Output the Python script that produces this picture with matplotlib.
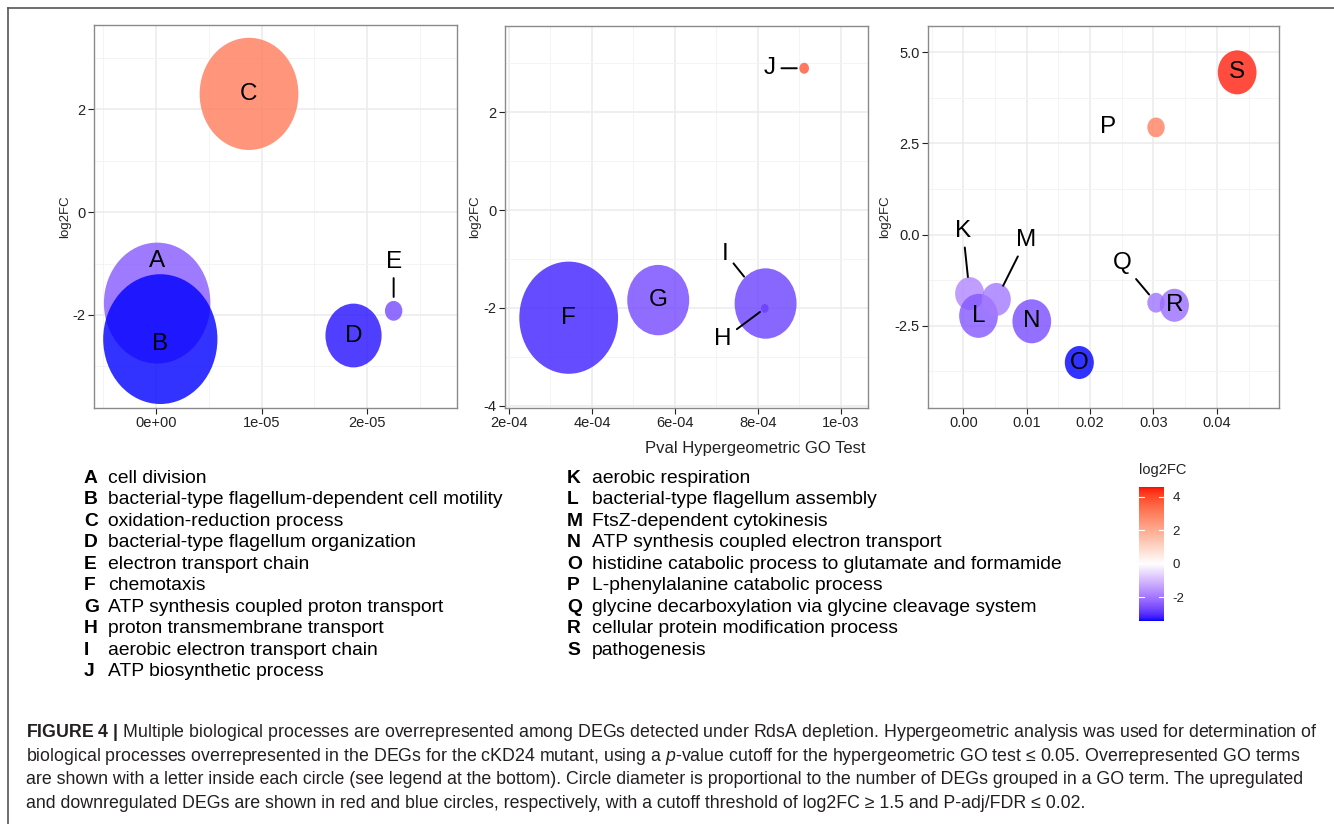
import numpy as np
import matplotlib
matplotlib.use("Agg")
import matplotlib.pyplot as plt
from matplotlib.colors import ListedColormap, TwoSlopeNorm
from matplotlib.path import Path
from matplotlib.transforms import Affine2D
from matplotlib.markers import MarkerStyle
from matplotlib.ticker import MultipleLocator, FuncFormatter
from matplotlib.lines import Line2D

plt.rcParams['font.family'] = ['Liberation Sans', 'DejaVu Sans']
plt.rcParams['axes.unicode_minus'] = False
plt.rcParams['mathtext.fontset'] = 'custom'
plt.rcParams['mathtext.rm'] = 'Liberation Sans'
plt.rcParams['mathtext.bf'] = 'Liberation Sans:bold'
plt.rcParams['mathtext.it'] = 'Liberation Sans:italic'

# ---------------- data ----------------
# panel 1
p1_terms = ["A", "B", "C", "D", "E"]
p1_pval = [0.01e-5, 0.04e-5, 0.88e-5, 1.87e-5, 2.25e-5]
p1_log2fc = [-1.77, -2.47, 2.30, -2.40, -1.92]
p1_size = [55, 59, 51, 29, 9]

# panel 2
p2_terms = ["F", "G", "H", "I", "J"]
p2_pval = [3.44e-4, 5.60e-4, 8.17e-4, 8.19e-4, 9.12e-4]
p2_log2fc = [-2.20, -1.84, -2.01, -1.91, 2.90]
p2_size = [51, 32, 4, 32, 5]

# panel 3
p3_terms = ["K", "L", "M", "N", "O", "P", "Q", "R", "S"]
p3_pval = [0.0010, 0.0024, 0.0052, 0.0108, 0.0183, 0.0304, 0.0304, 0.0333, 0.0432]
p3_log2fc = [-1.62, -2.23, -1.78, -2.38, -3.51, 2.94, -1.87, -1.94, 4.45]
p3_size = [15, 20, 15, 20, 15, 9, 9, 15, 20]

go_left = [
    ("A", "cell division"),
    ("B", "bacterial-type flagellum-dependent cell motility"),
    ("C", "oxidation-reduction process"),
    ("D", "bacterial-type flagellum organization"),
    ("E", "electron transport chain"),
    ("F", "chemotaxis"),
    ("G", "ATP synthesis coupled proton transport"),
    ("H", "proton transmembrane transport"),
    ("I", "aerobic electron transport chain"),
    ("J", "ATP biosynthetic process"),
]
go_right = [
    ("K", "aerobic respiration"),
    ("L", "bacterial-type flagellum assembly"),
    ("M", "FtsZ-dependent cytokinesis"),
    ("N", "ATP synthesis coupled electron transport"),
    ("O", "histidine catabolic process to glutamate and formamide"),
    ("P", "L-phenylalanine catabolic process"),
    ("Q", "glycine decarboxylation via glycine cleavage system"),
    ("R", "cellular protein modification process"),
    ("S", "pathogenesis"),
]

cbar_ticks = [-2, 0, 2, 4]
cbar_range = (-3.4, 4.6)

caption_lines = [
    r"$\mathbf{FIGURE\ 4\ |}$ Multiple biological processes are overrepresented among DEGs detected under RdsA depletion. Hypergeometric analysis was used for determination of",
    r"biological processes overrepresented in the DEGs for the cKD24 mutant, using a $\mathit{p}$-value cutoff for the hypergeometric GO test ≤ 0.05. Overrepresented GO terms",
    "are shown with a letter inside each circle (see legend at the bottom). Circle diameter is proportional to the number of DEGs grouped in a GO term. The upregulated",
    "and downregulated DEGs are shown in red and blue circles, respectively, with a cutoff threshold of log2FC ≥ 1.5 and P-adj/FDR ≤ 0.02.",
]

# ---------------- styling / layout ----------------
W, H, DPI = 1334, 824, 100
fig = plt.figure(figsize=(W / DPI, H / DPI), dpi=DPI)
fig.patch.set_facecolor("white")


def fx(x):
    return x / W


def fy(y):
    return 1 - y / H


def add_axes_px(left, top, right, bottom):
    return fig.add_axes([fx(left), fy(bottom), (right - left) / W, (bottom - top) / H])


# blue - white - red gradient interpolated in CIELAB
def lab_to_srgb(L, a, b):
    fy_ = (L + 16) / 116
    fx_ = fy_ + a / 500
    fz_ = fy_ - b / 200

    def finv(t):
        return np.where(t > 6 / 29, t ** 3, 3 * (6 / 29) ** 2 * (t - 4 / 29))

    X = 0.95047 * finv(fx_)
    Y = finv(fy_)
    Z = 1.08883 * finv(fz_)
    M = np.array([[3.2406, -1.5372, -0.4986],
                  [-0.9689, 1.8758, 0.0415],
                  [0.0557, -0.2040, 1.0570]])
    rgb = np.clip(M @ np.vstack([X, Y, Z]), 0, 1)
    srgb = np.where(rgb <= 0.0031308, 12.92 * rgb, 1.055 * rgb ** (1 / 2.4) - 0.055)
    return np.clip(srgb.T, 0, 1)


lab_white = np.array([100.0, 0.0, 0.0])
lab_blue = np.array([32.30, 79.19, -107.86])
lab_red = np.array([53.24, 80.09, 67.20])
t = np.linspace(0, 1, 256)
labs = np.where(t[:, None] < 0.5,
                lab_blue + (lab_white - lab_blue) * (t[:, None] / 0.5),
                lab_white + (lab_red - lab_white) * ((t[:, None] - 0.5) / 0.5))
cmap = ListedColormap(lab_to_srgb(labs[:, 0], labs[:, 1], labs[:, 2]))

# elliptical bubble marker
ell_path = Path.unit_circle().transformed(Affine2D().scale(0.88, 1.0))
ell_marker = MarkerStyle(ell_path)
PX_PER_UNIT = 2.2  # bubble height in pixels per size unit

# label placement: (dx pt, dy pt, segment shrink pt or None)
label_layout = {
    "A": (0, 30, None), "B": (0, -3.4, None), "E": (0, 35.5, 10),
    "H": (-30, -22.3, 4.3), "I": (-28.8, 36, 24.8), "J": (-24.7, 0, 5.3),
    "K": (-4.75, 45.1, 12), "M": (21.4, 42.7, 11), "P": (-34.6, 0, None),
    "Q": (-24, 28.5, 7.7),
}

GRID_MAJOR = "#ebebeb"
GRID_MINOR = "#f3f3f3"
TICK_COLOR = "#222222"


def draw_panel(ax, terms, pvals, fc, sizes, norm, xlim, ylim,
               xmaj, xmin, ymaj, ymin, xfmt, yfmt):
    ax.set_xlim(*xlim)
    ax.set_ylim(*ylim)
    ax.xaxis.set_major_locator(MultipleLocator(xmaj))
    ax.xaxis.set_minor_locator(MultipleLocator(xmin))
    ax.yaxis.set_major_locator(MultipleLocator(ymaj))
    ax.yaxis.set_minor_locator(MultipleLocator(ymin))
    ax.xaxis.set_major_formatter(FuncFormatter(xfmt))
    ax.yaxis.set_major_formatter(FuncFormatter(yfmt))
    ax.grid(which="major", color=GRID_MAJOR, lw=1.1)
    ax.grid(which="minor", color=GRID_MINOR, lw=0.6)
    ax.set_axisbelow(True)
    ax.tick_params(which="major", length=4, width=0.8, color=TICK_COLOR,
                   labelsize=10.5, labelcolor=TICK_COLOR, pad=2)
    ax.tick_params(which="minor", length=0)
    for s in ax.spines.values():
        s.set_color("#8a8a8a")
        s.set_linewidth(1.0)

    diam_pt = np.asarray(sizes, float) * PX_PER_UNIT * 72 / DPI
    ax.scatter(pvals, fc, s=diam_pt ** 2, marker=ell_marker,
               c=fc, cmap=cmap, norm=norm, alpha=0.8, linewidths=0, zorder=2)
    for term, x, y in zip(terms, pvals, fc):
        dx, dy, shrink = label_layout.get(term, (0, 0, None))
        arrow = None
        if shrink is not None:
            arrow = dict(arrowstyle="-", color="black", lw=1.4,
                         shrinkA=2, shrinkB=shrink)
        ax.annotate(term, xy=(x, y), xytext=(dx, dy), textcoords="offset points",
                    ha="center", va="center", fontsize=17.5, color="black",
                    arrowprops=arrow, zorder=3)


sci = lambda v, pos: f"{v:.0e}"
intf = lambda v, pos: f"{v:.0f}"

ax1 = add_axes_px(94, 25, 457, 408)
draw_panel(ax1, p1_terms, p1_pval, p1_log2fc, p1_size,
           TwoSlopeNorm(vcenter=0, vmin=-2.47, vmax=3.5),
           (-0.588e-5, 2.85e-5), (-3.81, 3.64),
           1e-5, 0.5e-5, 2, 1, sci, intf)

ax2 = add_axes_px(505, 25.7, 868.3, 407.7)
draw_panel(ax2, p2_terms, p2_pval, p2_log2fc, p2_size,
           TwoSlopeNorm(vcenter=0, vmin=-2.35, vmax=3.6),
           (1.904e-4, 1.0667e-3), (-4.04, 3.77),
           2e-4, 1e-4, 2, 1, sci, intf)

ax3 = add_axes_px(928, 25.7, 1279, 407.7)
draw_panel(ax3, p3_terms, p3_pval, p3_log2fc, p3_size,
           TwoSlopeNorm(vcenter=0, vmin=-3.1, vmax=4.6),
           (-0.00557, 0.0498), (-4.75, 5.73),
           0.01, 0.005, 2.5, 1.25,
           lambda v, pos: f"{v:.2f}", lambda v, pos: f"{v:.1f}")

for xp in (65, 475, 885):
    fig.text(fx(xp), fy(217), "log2FC", rotation=90, ha="center", va="center",
             fontsize=9.5, color="#222222")
fig.text(fx(865), fy(448), "Pval Hypergeometric GO Test", ha="right", va="center",
         fontsize=12, color="#222222")

# colour bar
cax = add_axes_px(1139.3, 486.7, 1164, 620.7)
grad = np.linspace(cbar_range[0], cbar_range[1], 256).reshape(-1, 1)
cax.imshow(grad, aspect="auto", origin="lower", cmap=cmap,
           norm=TwoSlopeNorm(vcenter=0, vmin=cbar_range[0], vmax=cbar_range[1]),
           extent=[0, 1, cbar_range[0], cbar_range[1]])
for v in cbar_ticks:
    cax.plot([0, 0.2], [v, v], color="white", lw=0.8)
    cax.plot([0.8, 1], [v, v], color="white", lw=0.8)
cax.set_xlim(0, 1)
cax.set_ylim(*cbar_range)
cax.set_xticks([])
cax.yaxis.tick_right()
cax.set_yticks(cbar_ticks)
cax.set_yticklabels([str(v) for v in cbar_ticks])
cax.tick_params(axis="y", length=0, pad=6, labelsize=9.5, labelcolor="#222222")
for s in cax.spines.values():
    s.set_visible(False)
fig.text(fx(1139), fy(470), "log2FC", ha="left", va="center", fontsize=10.5,
         color="#222222")

# term legend
ROW0, ROWSTEP = 478.3, 21.5
for i, (letter, desc) in enumerate(go_left):
    y = fy(ROW0 + i * ROWSTEP)
    fig.text(fx(84), y, letter, fontweight="bold", fontsize=13.9, va="center", ha="left")
    fig.text(fx(108), y, desc, fontsize=13.9, va="center", ha="left")
for i, (letter, desc) in enumerate(go_right):
    y = fy(ROW0 + i * ROWSTEP)
    fig.text(fx(567), y, letter, fontweight="bold", fontsize=13.9, va="center", ha="left")
    fig.text(fx(592), y, desc, fontsize=13.9, va="center", ha="left")

# caption
for i, line in enumerate(caption_lines):
    fig.text(fx(26), fy(732.5 + i * 23.6), line, fontsize=12.8, color="#231f20",
             ha="left", va="center")

# frame lines
fig.add_artist(Line2D([fx(8), 1], [fy(8), fy(8)], transform=fig.transFigure,
                      color="#555555", lw=1.2))
fig.add_artist(Line2D([fx(8), fx(8)], [0, fy(8)], transform=fig.transFigure,
                      color="#555555", lw=1.2))

fig.savefig("out.png", dpi=DPI, facecolor="white")
